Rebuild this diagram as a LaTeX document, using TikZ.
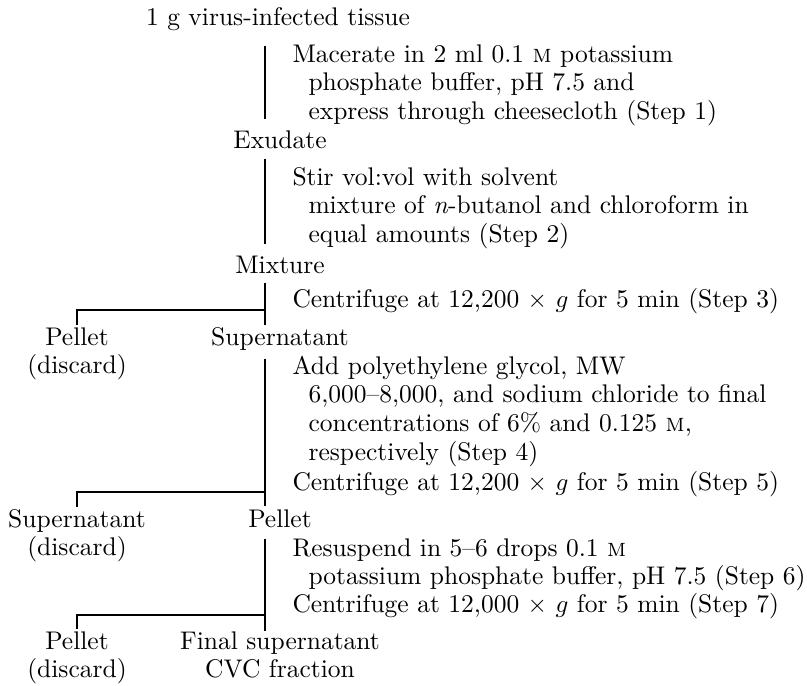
\documentclass[tikz,border=0pt]{standalone}
\usetikzlibrary{calc}

\tikzset{
  label/.style={align=center, anchor=base},
  stepbox/.style={align=left, anchor=base west},
  stem/.style={line width=1.3pt}
}

\begin{document}
\begin{tikzpicture}[x=0.4pt, y=-0.4pt, scale=2.5,
    every node/.style={transform shape, inner sep=0pt, font=\fontsize{10.2}{11.5}\selectfont}]
    \useasboundingbox (0,0) rectangle (807,685);
    \coordinate (spine) at (265,0);

    % products (multi-line nodes sit on their last line)
    \node[label] (tissue) at (278,25) {1 g virus-infected tissue};
    \node[label] (exudate) at (280,148) {Exudate};
    \node[label] (mixture) at (280,273) {Mixture};
    \node[label] (pellet1) at (77,373.75) {Pellet\\(discard)};
    \node[label] (super1) at (280,345) {Supernatant};
    \node[label] (super2) at (77,555.75) {Supernatant\\(discard)};
    \node[label] (pellet2) at (280,527) {Pellet};
    \node[label] (pellet3) at (77,677.75) {Pellet\\(discard)};
    \node[label] (final) at (280,677.75) {Final supernatant\\CVC fraction};

    % steps
    \node[stepbox] (step1) at (292,119.5) {Macerate in 2 ml 0.1 \textsc{m} potassium\\
      \hspace*{6.4pt}phosphate buffer, pH 7.5 and\\
      \hspace*{6.4pt}express through cheesecloth (Step 1)};
    \node[stepbox] (step2) at (292,242.5) {Stir vol:vol with solvent\\
      \hspace*{6.4pt}mixture of \textit{n}-butanol and chloroform in\\
      \hspace*{6.4pt}equal amounts (Step 2)};
    \node[stepbox] (step3) at (292,307) {Centrifuge at 12,200 $\times$ $g$ for 5 min (Step 3)};
    \node[stepbox] (step4) at (292,460.25) {Add polyethylene glycol, MW\\
      \hspace*{6.4pt}6,000\textendash8,000, and sodium chloride to final\\
      \hspace*{6.4pt}concentrations of 6\% and 0.125 \textsc{m},\\
      \hspace*{6.4pt}respectively (Step 4)};
    \node[stepbox] (step5) at (292,490) {Centrifuge at 12,200 $\times$ $g$ for 5 min (Step 5)};
    \node[stepbox] (step6) at (292,584.75) {Resuspend in 5\textendash6 drops 0.1 \textsc{m}\\
      \hspace*{6.4pt}potassium phosphate buffer, pH 7.5 (Step 6)};
    \node[stepbox] (step7) at (292,612) {Centrifuge at 12,000 $\times$ $g$ for 5 min (Step 7)};

    % main stem
    \draw[stem, shorten <=15pt, shorten >=11pt] (tissue.south -| spine) -- (exudate.north -| spine);
    \draw[stem, shorten <=10pt, shorten >=11pt] (exudate.south -| spine) -- (mixture.north -| spine);
    \draw[stem, shorten <=9pt, shorten >=2pt] (mixture.south -| spine) -- (super1.north -| spine);
    \draw[stem, shorten <=8pt, shorten >=3pt] (super1.south -| spine) -- (pellet2.north -| spine);
    \draw[stem, shorten <=11pt] (pellet2.south -| spine) -- (final.north -| spine);

    % side branches
    \draw[stem, shorten <=2pt] (pellet1.north) |- ($(step3.base -| spine)+(0,3)$);
    \draw[stem, shorten <=2pt] (super2.north) |- ($(step5.base -| spine)+(0,2)$);
    \draw[stem, shorten <=2pt] (pellet3.north) |- ($(step7.base -| spine)+(0,3)$);
\end{tikzpicture}
\end{document}
